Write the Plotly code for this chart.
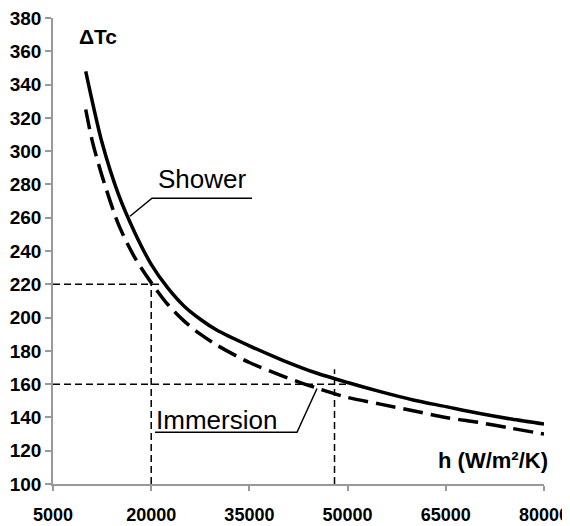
import plotly.graph_objects as go

# Data
h_shower = [10000, 12500, 15000, 17500, 20000, 22500, 25000, 27500, 30000, 35000, 40000,
            45000, 50000, 55000, 60000, 65000, 70000, 75000, 80000]
dt_shower = [348, 305, 274, 251, 232, 218, 207, 199, 192.5, 183, 174.5,
             167, 161, 155.5, 150.5, 146.5, 142.5, 139, 136]

h_immersion = [10000, 11000, 12500, 15000, 17500, 20000, 22500, 25000, 27500, 30000,
               35000, 40000, 45000, 50000, 55000, 60000, 65000, 70000, 75000, 80000]
dt_immersion = [325, 306, 285, 256, 236, 221, 208, 198, 190, 183.5,
                173, 165, 158, 152, 148, 144, 140, 137, 133.5, 130]

# guide lines (reading points)
guide_h = [20000, 48000]
guide_dt = [220, 160]
guide_hend = [21700, 51400]
guide_vtop = [221.7, 169]

x_ticks = [5000, 20000, 35000, 50000, 65000, 80000]
y_ticks = list(range(100, 381, 20))

FONT = "Liberation Sans, Arial, sans-serif"

fig = go.Figure()
fig.add_trace(go.Scatter(x=h_shower, y=dt_shower, mode="lines",
                         line=dict(color="black", width=3.5, shape="spline", smoothing=0.8),
                         name="Shower", showlegend=False))
fig.add_trace(go.Scatter(x=h_immersion, y=dt_immersion, mode="lines",
                         line=dict(color="black", width=3.5, dash="20px,8px",
                                   shape="spline", smoothing=0.8),
                         name="Immersion", showlegend=False))

shapes = []
for gh, gd, he, vt in zip(guide_h, guide_dt, guide_hend, guide_vtop):
    shapes.append(dict(type="line", xref="x", yref="y", x0=5000, x1=he, y0=gd, y1=gd,
                       line=dict(color="black", width=1.5, dash="7px,4px")))
    shapes.append(dict(type="line", xref="x", yref="y", x0=gh, x1=gh, y0=100, y1=vt,
                       line=dict(color="black", width=1.5, dash="7px,4px")))

# leader lines for labels
shapes.append(dict(type="path", xref="x", yref="y",
                   path="M 16762 260.9 L 20122 271.7 L 35397 271.7",
                   line=dict(color="black", width=1.5)))
shapes.append(dict(type="path", xref="x", yref="y",
                   path="M 20580 131.1 L 42271 131.1 L 45326 157.4",
                   line=dict(color="black", width=1.5)))

annotations = [
    dict(x=11874, y=368.6, xref="x", yref="y", text="<b>ΔTc</b>", showarrow=False,
         font=dict(family=FONT, size=21, color="black")),
    dict(x=27760, y=283, xref="x", yref="y", text="Shower", showarrow=False,
         font=dict(family=FONT, size=26, color="black")),
    dict(x=29900, y=138.3, xref="x", yref="y", text="Immersion", showarrow=False,
         font=dict(family=FONT, size=26, color="black")),
    dict(x=72210, y=114.4, xref="x", yref="y", text="<b>h (W/m²/K)</b>", showarrow=False,
         font=dict(family=FONT, size=22, color="black")),
]

fig.update_layout(
    width=570, height=526,
    margin=dict(l=45, r=34, t=10, b=50),
    paper_bgcolor="white", plot_bgcolor="white",
    shapes=shapes, annotations=annotations,
    font=dict(family=FONT, color="black"),
)
fig.update_xaxes(range=[5000, 80000], tickvals=x_ticks, ticktext=[str(v) for v in x_ticks],
                 showgrid=False, zeroline=False, showline=True, linecolor="#999999", linewidth=1.5,
                 ticks="outside", ticklen=5, tickcolor="#999999", tickwidth=1.5,
                 tickfont=dict(family=FONT, size=18, color="black", weight="bold"),
                 ticklabelstandoff=9, ticklabeloverflow="allow", automargin=False)
fig.update_yaxes(range=[100, 380], tickvals=y_ticks, ticktext=[str(v) for v in y_ticks],
                 showgrid=False, zeroline=False, showline=True, linecolor="#999999", linewidth=1.5,
                 ticks="outside", ticklen=6, tickcolor="#999999", tickwidth=1.5,
                 tickfont=dict(family=FONT, size=19, color="black", weight="bold"),
                 ticklabeloverflow="allow", automargin=False)

fig.write_html("out.html")
